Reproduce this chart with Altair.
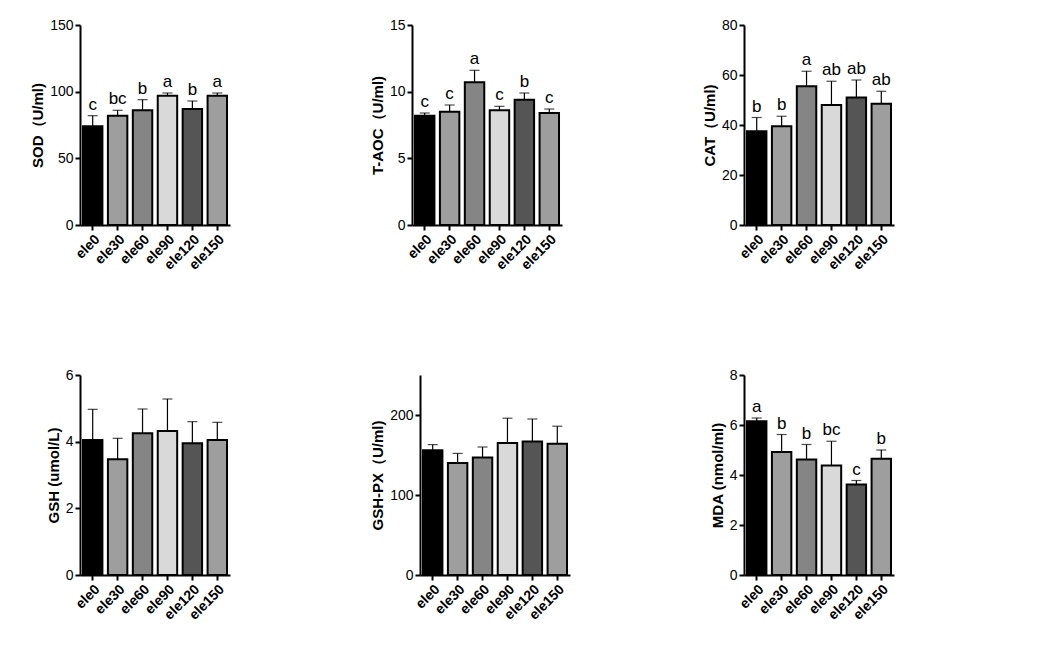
import pandas as pd
import altair as alt

groups = ["ele0", "ele30", "ele60", "ele90", "ele120", "ele150"]
colors = ["#000000", "#9e9e9e", "#858585", "#d9d9d9", "#555555", "#9e9e9e"]

sod = [74, 82, 86, 97, 87, 97]
sod_top = [82, 86, 94, 99, 93, 99]
sod_letters = ["c", "bc", "b", "a", "b", "a"]

taoc = [8.2, 8.5, 10.7, 8.6, 9.4, 8.4]
taoc_top = [8.4, 9.0, 11.6, 8.9, 9.9, 8.7]
taoc_letters = ["c", "c", "a", "c", "b", "c"]

cat = [37.5, 39.5, 55.5, 48, 51, 48.5]
cat_top = [43, 43.5, 61.5, 57.5, 58, 53.5]
cat_letters = ["b", "b", "a", "ab", "ab", "ab"]

gsh = [4.05, 3.47, 4.25, 4.32, 3.95, 4.05]
gsh_top = [4.97, 4.1, 4.98, 5.28, 4.6, 4.58]

gshpx = [156, 140, 147, 165, 167, 164]
gshpx_top = [163, 152, 160, 196, 195, 186]

mda = [6.15, 4.92, 4.62, 4.38, 3.62, 4.65]
mda_top = [6.28, 5.62, 5.22, 5.35, 3.78, 5.0]
mda_letters = ["a", "b", "b", "bc", "c", "b"]

FONT = "Liberation Sans"


def panel(values, tops, letters, title, ymax, step):
    df = pd.DataFrame({"g": groups, "v": values, "top": tops,
                       "lab": letters if letters else [""] * 6})
    x = alt.X("g:N", sort=groups, title=None,
              scale=alt.Scale(paddingInner=0.22, paddingOuter=0.12),
              axis=alt.Axis(labelAngle=-45, labelFontWeight="bold", labelFontSize=14,
                            labelColor="black", domainColor="black", domainWidth=2,
                            tickColor="black", tickWidth=2, tickSize=5, labelFont=FONT))
    y = alt.Y("v:Q", title=title,
              scale=alt.Scale(domain=[0, ymax], nice=False),
              axis=alt.Axis(values=list(range(0, ymax + 1, step)), grid=False,
                            labelOverlap=False,
                            titleFontWeight="bold", titleFontSize=15, titleFont=FONT,
                            labelFontSize=14, labelFont=FONT, labelColor="black",
                            titleColor="black", domainColor="black", domainWidth=2,
                            tickColor="black", tickWidth=2, tickSize=5))
    base = alt.Chart(df)
    bars = base.mark_bar(stroke="black", strokeWidth=2).encode(
        x=x, y=y,
        color=alt.Color("g:N", sort=groups, legend=None,
                        scale=alt.Scale(domain=groups, range=colors)))
    err = base.mark_rule(color="black", strokeWidth=1.2).encode(
        x=alt.X("g:N", sort=groups), y="v:Q", y2="top:Q")
    cap = base.mark_tick(color="black", thickness=1.2, size=10).encode(
        x=alt.X("g:N", sort=groups), y="top:Q")
    layers = bars + err + cap
    if letters:
        txt = base.mark_text(dy=-11, fontSize=17, font=FONT, color="black").encode(
            x=alt.X("g:N", sort=groups), y="top:Q", text="lab:N")
        layers = layers + txt
    return layers.properties(width=150, height=200)


row1 = alt.hconcat(
    panel(sod, sod_top, sod_letters, "SOD（U/ml)", 150, 50),
    panel(taoc, taoc_top, taoc_letters, "T-AOC（U/ml)", 15, 5),
    panel(cat, cat_top, cat_letters, "CAT（U/ml)", 80, 20),
    spacing=140)
row2 = alt.hconcat(
    panel(gsh, gsh_top, None, "GSH (umol/L)", 6, 2),
    panel(gshpx, gshpx_top, None, "GSH-PX（U/ml)", 250, 50),
    panel(mda, mda_top, mda_letters, "MDA (nmol/ml)", 8, 2),
    spacing=140)

chart = alt.vconcat(row1, row2, spacing=95).configure_view(stroke=None).properties(
    padding={"left": 22, "top": 10, "right": 5, "bottom": 5})

chart.save("out.html", embed_options={"renderer": "svg", "actions": False})
